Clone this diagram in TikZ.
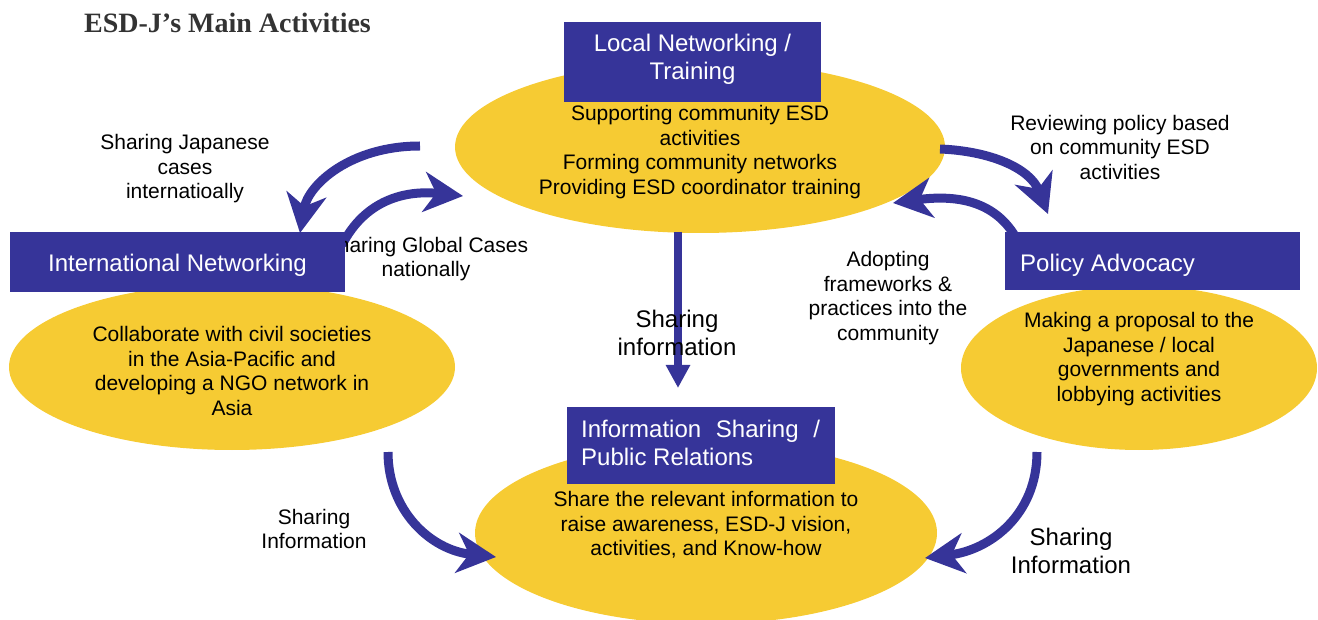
\documentclass[tikz,border=0pt]{standalone}
\usepackage{fontspec}
\setmainfont{Liberation Sans}
\newfontfamily\titlefont{Liberation Serif}
\usetikzlibrary{arrows.meta,shapes.geometric}
\definecolor{esdblue}{RGB}{54,52,153}
\definecolor{esdyellow}{RGB}{246,203,51}
\definecolor{titlegray}{RGB}{51,51,51}
\begin{document}
\begin{tikzpicture}[x=1pt,y=-1pt,
  blob/.style={shape=ellipse, fill=esdyellow, inner sep=0pt},
  boxnode/.style={rectangle, fill=esdblue, inner sep=0pt},
  boxtext/.style={text=white, font=\fontsize{24}{28}\selectfont, inner sep=0pt},
  bodytext/.style={font=\fontsize{21}{24.5}\selectfont, align=center, inner sep=0pt},
  bigtext/.style={font=\fontsize{24}{28}\selectfont, align=center, inner sep=0pt},
  flow/.style={draw=esdblue, line width=9pt, -{Stealth[length=39pt,width=40pt,inset=12pt]}},
  straightflow/.style={draw=esdblue, line width=8pt, -{Triangle[length=23pt,width=23pt]}}]
\useasboundingbox (0,0) rectangle (1318,620);

% title
\node[anchor=base west, inner sep=0pt, text=titlegray, font=\titlefont\bfseries\fontsize{28}{32}\selectfont] (title) at (84,33) {ESD-J’s Main Activities};

% ellipses
\node[blob, minimum width=490pt, minimum height=172pt] (topell) at (700,147) {};
\node[blob, minimum width=446pt, minimum height=166pt] (leftell) at (232,367) {};
\node[blob, minimum width=356pt, minimum height=164pt] (rightell) at (1139,368) {};
\node[blob, minimum width=462pt, minimum height=182pt] (botell) at (706,533) {};

% ellipse texts
\node[bodytext] (toptext) at (700,152) {Supporting community ESD\\activities\\Forming community networks\\Providing ESD coordinator training};
\node[bodytext] (lefttext) at (232,371) {Collaborate with civil societies\\in the Asia-Pacific and\\developing a NGO network in\\Asia};
\node[bodytext] (righttext) at (1139,359) {Making a proposal to the\\Japanese / local\\governments and\\lobbying activities};
\node[bodytext] (bottext) at (706,525) {Share the relevant information to\\raise awareness, ESD-J vision,\\activities, and Know-how};

% connector end points
\coordinate (a1s) at (420,146);  \coordinate (a1e) at (300,233);
\coordinate (a2s) at (342,245);  \coordinate (a2e) at (463,196);
\coordinate (a3s) at (940,149);  \coordinate (a3e) at (1048,214);
\coordinate (a4s) at (1015,236); \coordinate (a4e) at (893,203);
\coordinate (a5s) at (678,232);  \coordinate (a5e) at (678,388);
\coordinate (a6s) at (388,452);  \coordinate (a6e) at (496,557);
\coordinate (a7s) at (1037,452); \coordinate (a7e) at (925,558);

% arrows
\draw[flow] (a1s) .. controls (350,146) and (308,185) .. (a1e);
\draw[flow] (a2s) .. controls (365,200) and (405,190) .. (a2e);
\draw[flow] (a3s) .. controls (990,151) and (1030,168) .. (a3e);
\draw[flow] (a4s) .. controls (995,203) and (960,194) .. (a4e);
\draw[straightflow] (a5s) -- (a5e);
\draw[flow] (a6s) .. controls (388,510) and (430,550) .. (a6e);
\draw[flow] (a7s) .. controls (1037,515) and (990,550) .. (a7e);

% labels
\node[bodytext] (lab1) at (185,169) {Sharing Japanese\\cases\\internatioally};
\node[bodytext] (lab2) at (426,259) {Sharing Global Cases\\nationally};
\node[bodytext] (lab3) at (1120,147) {Reviewing policy based\\on community ESD\\activities};
\node[bodytext] (lab4) at (888,298) {Adopting\\frameworks \&\\practices into the\\community};
\node[bigtext] (lab5) at (677,333) {Sharing\\information};
\node[bodytext] (lab6) at (314,529) {Sharing\\Information};
\node[bigtext] (lab7) at (1071,551) {Sharing\\Information};

% category boxes
\node[boxnode, minimum width=257pt, minimum height=80pt] (topbox) at (692.5,62) {};
\node[boxtext, align=center] (topboxtext) at (692.5,59.5) {Local Networking /\\Training};
\node[boxnode, minimum width=335pt, minimum height=60pt] (leftbox) at (177.5,262) {};
\node[boxtext] (leftboxtext) at (177.5,265) {International Networking};
\node[boxnode, minimum width=295pt, minimum height=58pt] (rightbox) at (1152.5,261) {};
\node[boxtext, anchor=west] (rightboxtext) at (1020,265) {Policy Advocacy};
\node[boxnode, minimum width=268pt, minimum height=77pt] (botbox) at (701,445.5) {};
\node[boxtext, anchor=west, align=left] (botboxtext) at (581,443) {Information\hspace{8pt} Sharing\hspace{8pt} /\\Public Relations};
\end{tikzpicture}
\end{document}
